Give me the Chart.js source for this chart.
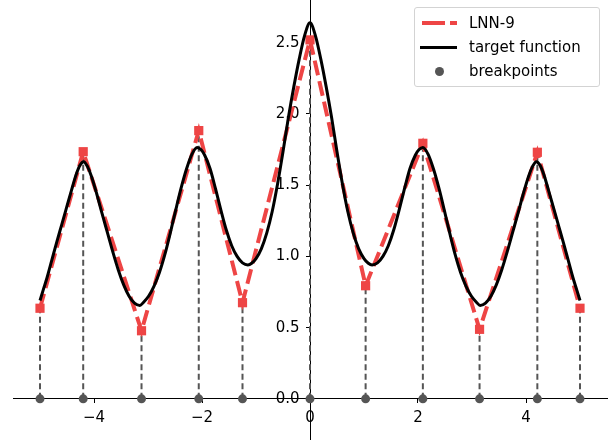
<!DOCTYPE html>
<html>
<head>
<meta charset="utf-8">
<script src="https://cdn.jsdelivr.net/npm/chart.js@4.4.1/dist/chart.umd.min.js"></script>
<style>
  html, body { margin: 0; padding: 0; background: #fff; }
  #wrap { position: relative; width: 614px; height: 440px; }
  #legend {
    position: absolute; left: 414px; top: 7px; width: 186px; height: 80px;
    box-sizing: border-box; border: 1px solid #d3d3d3; border-radius: 3px;
    background: rgba(255, 255, 255, 0.8);
    font: 15px "DejaVu Sans", sans-serif; color: #000;
  }
  #legend .mark { position: absolute; }
  #legend .label { position: absolute; left: 54px; height: 20px; line-height: 20px; white-space: nowrap; }
</style>
</head>
<body>
<div id="wrap">
  <canvas id="chart" width="614" height="440"></canvas>
  <div id="legend">
    <div class="mark" style="left:7px;top:13px;width:23px;height:4px;background:#ee4545"></div>
    <div class="mark" style="left:35px;top:13px;width:7px;height:4px;background:#ee4545"></div>
    <span class="label" style="top:5px">LNN-9</span>
    <div class="mark" style="left:5px;top:38px;width:37px;height:3px;background:#000"></div>
    <span class="label" style="top:29px">target function</span>
    <div class="mark" style="left:20px;top:59px;width:9px;height:9px;border-radius:50%;background:#555"></div>
    <span class="label" style="top:53px">breakpoints</span>
  </div>
</div>
<script>
// breakpoints of the piecewise linear network, and its values there
const breakX = [-5, -4.2, -3.12, -2.06, -1.25, 0, 1.03, 2.09, 3.14, 4.21, 5];
const lnnY = [0.636, 1.735, 0.478, 1.883, 0.675, 2.52, 0.794, 1.794, 0.488, 1.731, 0.636];

// target function
const targetX = [
  -5.0, -4.94, -4.87, -4.78, -4.69, -4.6, -4.51, -4.42, -4.33, -4.26,
  -4.19, -4.12, -4.05, -3.95, -3.85, -3.75, -3.65, -3.55, -3.45, -3.35,
  -3.25, -3.15, -3.09, -2.99, -2.89, -2.79, -2.69, -2.59, -2.49, -2.39,
  -2.29, -2.19, -2.09, -2.02, -1.95, -1.85, -1.75, -1.65, -1.55, -1.45,
  -1.35, -1.25, -1.15, -1.08, -1.0, -0.9, -0.8, -0.7, -0.6, -0.5,
  -0.4, -0.3, -0.2, -0.1,
  0,
  0.1, 0.2, 0.3, 0.4, 0.5, 0.6, 0.7, 0.8, 0.9, 1.0,
  1.08, 1.15, 1.25, 1.35, 1.45, 1.55, 1.65, 1.75, 1.85, 1.95,
  2.02, 2.09, 2.19, 2.29, 2.39, 2.49, 2.59, 2.69, 2.79, 2.89,
  2.99, 3.09, 3.15, 3.25, 3.35, 3.45, 3.55, 3.65, 3.75, 3.85,
  3.95, 4.05, 4.12, 4.19, 4.26, 4.33, 4.42, 4.51, 4.6, 4.69,
  4.78, 4.87, 4.94, 5.0,
];
const targetY = [
  0.69, 0.765, 0.85, 0.975, 1.1, 1.22, 1.34, 1.46, 1.575, 1.64,
  1.665, 1.63, 1.565, 1.44, 1.3, 1.165, 1.03, 0.905, 0.8, 0.72,
  0.672, 0.655, 0.675, 0.72, 0.79, 0.885, 1.01, 1.16, 1.32, 1.475,
  1.61, 1.715, 1.765, 1.75, 1.71, 1.615, 1.475, 1.325, 1.185, 1.075,
  1.0, 0.955, 0.94, 0.952, 0.985, 1.055, 1.165, 1.315, 1.51, 1.735,
  1.975, 2.19, 2.385, 2.55,
  2.64,
  2.55, 2.385, 2.19, 1.975, 1.735, 1.51, 1.315, 1.165, 1.055, 0.985,
  0.952, 0.94, 0.955, 1.0, 1.075, 1.185, 1.325, 1.475, 1.615, 1.71,
  1.75, 1.765, 1.715, 1.61, 1.475, 1.32, 1.16, 1.01, 0.885, 0.79,
  0.72, 0.675, 0.655, 0.672, 0.72, 0.8, 0.905, 1.03, 1.165, 1.3,
  1.44, 1.565, 1.63, 1.665, 1.64, 1.575, 1.46, 1.34, 1.22, 1.1,
  0.975, 0.85, 0.765, 0.69,
];

const xTicks = [-4, -2, 0, 2, 4];
const yTicks = [0, 0.5, 1, 1.5, 2, 2.5];

const RED = "#ee4545";
const GREY = "#555555";
const FONT = { family: "DejaVu Sans", size: 15 };

function minusSign(v) {
  return v < 0 ? `\u2212${Math.abs(v)}` : `${v}`;
}

const targetPts = targetX.map((x, i) => ({ x, y: targetY[i] }));
const lnnPts = breakX.map((x, i) => ({ x, y: lnnY[i] }));
const dotPts = breakX.map((x) => ({ x, y: 0 }));
const stemPts = [];
breakX.forEach((x, i) => {
  stemPts.push({ x, y: 0 }, { x, y: lnnY[i] }, { x, y: null });
});

new Chart(document.getElementById("chart").getContext("2d"), {
  type: "line",
  data: {
    datasets: [
      {
        label: "breakpoints",
        data: dotPts,
        showLine: false,
        pointRadius: 4.5,
        pointBackgroundColor: GREY,
        pointBorderWidth: 0,
      },
      {
        label: "target function",
        data: targetPts,
        borderColor: "#000",
        borderWidth: 3,
        pointRadius: 0,
        cubicInterpolationMode: "monotone",
      },
      {
        label: "LNN-9",
        data: lnnPts,
        borderColor: RED,
        borderWidth: 4,
        borderDash: [15, 6],
        tension: 0,
        pointStyle: "rect",
        pointRadius: 6.5,
        pointBackgroundColor: RED,
        pointBorderWidth: 0,
      },
      {
        label: "stems",
        data: stemPts,
        borderColor: GREY,
        borderWidth: 2,
        borderDash: [6, 3.5],
        pointRadius: 0,
        spanGaps: false,
      },
    ],
  },
  options: {
    responsive: false,
    animation: false,
    events: [],
    layout: { autoPadding: false, padding: { left: 13, right: 7, top: 0, bottom: 0 } },
    plugins: { legend: { display: false }, tooltip: { enabled: false } },
    scales: {
      x: {
        type: "linear",
        position: { y: 0 },
        min: -5.5,
        max: 5.5,
        afterFit: (s) => {
          s.height = 0;
          s.paddingLeft = 0;
          s.paddingRight = 0;
        },
        afterBuildTicks: (s) => { s.ticks = xTicks.map((v) => ({ value: v })); },
        border: { display: true, color: "#000", width: 1 },
        grid: { drawOnChartArea: false, drawTicks: true, tickLength: 4, tickColor: "#000" },
        ticks: { color: "#000", font: FONT, padding: 6, autoSkip: false, maxRotation: 0, callback: minusSign },
      },
      y: {
        type: "linear",
        position: { x: 0 },
        min: -0.289,
        max: 2.8,
        afterFit: (s) => {
          s.width = 0;
          s.paddingTop = 0;
          s.paddingBottom = 0;
        },
        afterBuildTicks: (s) => { s.ticks = yTicks.map((v) => ({ value: v })); },
        border: { display: true, color: "#000", width: 1 },
        grid: { drawOnChartArea: false, drawTicks: true, tickLength: 4, tickColor: "#000" },
        // labels sit on the axis line, so pad them with trailing spaces
        ticks: { color: "#000", font: FONT, autoSkip: false, callback: (v) => `${v.toFixed(1)}\u2002\u2009` },
      },
    },
  },
});
</script>
</body>
</html>
